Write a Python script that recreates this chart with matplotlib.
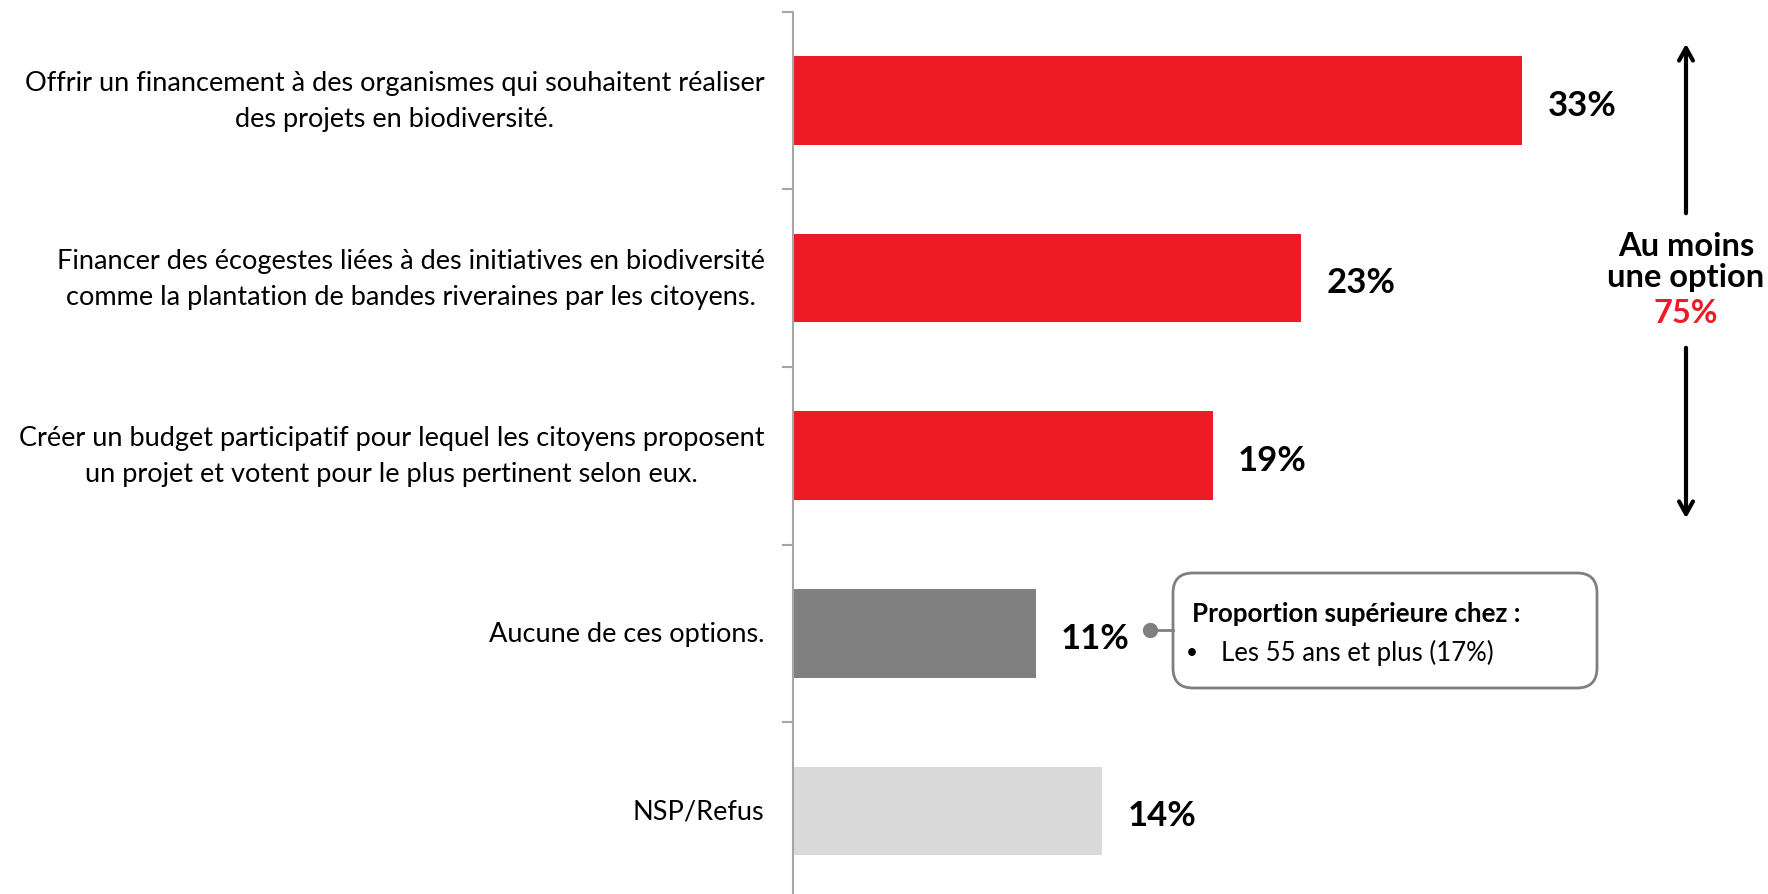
import numpy as np
import matplotlib.pyplot as plt
from matplotlib.patches import FancyBboxPatch

plt.rcParams['font.family'] = ['Lato', 'DejaVu Sans']

categories = [
    "Offrir un financement à des organismes qui souhaitent réaliser\ndes projets en biodiversité.",
    "Financer des écogestes liées à des initiatives en biodiversité\ncomme la plantation de bandes riveraines par les citoyens.",
    "Créer un budget participatif pour lequel les citoyens proposent\nun projet et votent pour le plus pertinent selon eux.",
    "Aucune de ces options.",
    "NSP/Refus",
]
values = [33, 23, 19, 11, 14]
bar_colors = ["#ED1C24", "#ED1C24", "#ED1C24", "#808080", "#D9D9D9"]
at_least_one = 75
callout_title = "Proportion supérieure chez :"
callout_item = "Les 55 ans et plus (17%)"

W, H = 1768, 895
fig = plt.figure(figsize=(W / 100, H / 100), dpi=100)

# main bar axes
ax_left = 793
ax_top = 12.6
ax = fig.add_axes([ax_left / W, 0, (W - ax_left) / W, (H - ax_top) / H])
y = np.arange(len(values))
ax.barh(y, values, height=0.5, color=bar_colors)
ax.set_xlim(0, (W - ax_left) / 22.1)
ax.set_ylim(4.467, -0.5)

for s in ["top", "right", "bottom"]:
    ax.spines[s].set_visible(False)
ax.spines["left"].set_color("#A6A6A6")
ax.spines["left"].set_linewidth(1.5)
ax.set_xticks([])
ax.set_yticks(np.arange(-0.5, len(values) - 0.5, 1))
ax.set_yticklabels([])
ax.tick_params(axis="y", length=8, width=1.5, color="#A6A6A6")

for i, (lab, v) in enumerate(zip(categories, values)):
    ax.text(-0.0292, i, lab, transform=ax.get_yaxis_transform(), ha="right",
            va="center", multialignment="center", fontsize=19.5, linespacing=1.55)
    ax.annotate(f"{v}%", (v, i), xytext=(18, -3), textcoords="offset points",
                ha="left", va="center", fontsize=25, fontweight="bold")

# overlay in pixel coordinates for the annotations
ov = fig.add_axes([0, 0, 1, 1], facecolor="none")
ov.set_xlim(0, W)
ov.set_ylim(H, 0)
ov.axis("off")

cx = 1686
ov.annotate("", xy=(cx, 42), xytext=(cx, 217),
            arrowprops=dict(arrowstyle="->,head_length=0.9,head_width=0.5", lw=3, color="black"))
ov.annotate("", xy=(cx, 522), xytext=(cx, 346),
            arrowprops=dict(arrowstyle="->,head_length=0.9,head_width=0.5", lw=3, color="black"))
ov.text(cx, 262, "Au moins\nune option", ha="center", va="center", fontsize=23.5,
        fontweight="bold", linespacing=1.05)
ov.text(cx, 313, f"{at_least_one}%", ha="center", va="center", fontsize=23.5,
        fontweight="bold", color="#ED1C24")

box = FancyBboxPatch((1173, 574), 424, 115, boxstyle="round,pad=0,rounding_size=20",
                     fc="white", ec="#7F7F7F", lw=2)
ov.add_patch(box)
ov.plot([1150, 1173], [631, 631], color="#7F7F7F", lw=2)
ov.plot([1150], [631], "o", color="#7F7F7F", ms=10)
ov.text(1192, 614, callout_title, ha="left", va="center", fontsize=18.7, fontweight="bold")
ov.text(1186, 653, "•", ha="left", va="center", fontsize=15)
ov.text(1221, 653, callout_item, ha="left", va="center", fontsize=18.5)

fig.savefig("out.png", dpi=100)
